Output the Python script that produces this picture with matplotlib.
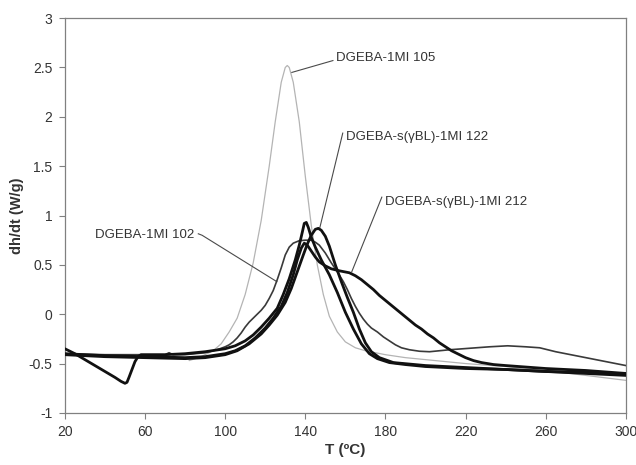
import matplotlib
matplotlib.use("Agg")
import matplotlib.pyplot as plt

plt.rcParams["font.family"] = ["Liberation Sans", "DejaVu Sans"]

TEXT = "#333333"
SPINE = "#808080"

# DSC heat-flow curves, dh/dt (W/g) vs temperature (ºC)
t_105 = [82, 88, 94, 98, 102, 106, 110, 114, 118, 122, 125, 128, 130, 131, 132,
         134, 137, 140, 143, 146, 149, 152, 156, 160, 165, 170, 180, 190, 200,
         220, 240, 260, 280, 300]
y_105 = [-0.47, -0.43, -0.37, -0.30, -0.18, -0.04, 0.20, 0.52, 0.95, 1.50, 1.95,
         2.35, 2.50, 2.52, 2.50, 2.35, 1.95, 1.40, 0.90, 0.50, 0.20, -0.02, -0.18,
         -0.28, -0.34, -0.37, -0.41, -0.44, -0.46, -0.50, -0.53, -0.57, -0.62, -0.67]

t_102 = [20, 40, 60, 70, 72, 74, 80, 90, 96, 100, 102, 104, 106, 108, 110, 112,
         114, 116, 118, 120, 122, 124, 126, 128, 130, 132, 134, 137, 140, 143, 145,
         147, 150, 153, 156, 159, 161, 163, 165, 167, 169, 171, 173, 176, 179, 182,
         185, 188, 192, 197, 202, 212, 222, 232, 241, 250, 257, 265, 275, 285, 300]
y_102 = [-0.40, -0.41, -0.41, -0.41, -0.39, -0.41, -0.41, -0.39, -0.36, -0.33,
         -0.31, -0.28, -0.24, -0.19, -0.13, -0.08, -0.04, 0.00, 0.04, 0.09, 0.16,
         0.24, 0.35, 0.47, 0.60, 0.68, 0.72, 0.745, 0.75, 0.75, 0.73, 0.70, 0.62,
         0.52, 0.43, 0.33, 0.25, 0.16, 0.08, 0.01, -0.05, -0.10, -0.14, -0.18,
         -0.23, -0.27, -0.31, -0.34, -0.36, -0.375, -0.38, -0.36, -0.345, -0.33,
         -0.32, -0.33, -0.34, -0.38, -0.42, -0.46, -0.52]

t_122 = [20, 40, 60, 80, 90, 100, 106, 112, 118, 122, 126, 130, 133, 136, 139,
         141, 143, 145, 146.5, 148, 150, 152, 155, 158, 161, 164, 167, 170, 173,
         177, 184, 200, 220, 240, 260, 280, 300]
y_122 = [-0.41, -0.43, -0.44, -0.45, -0.44, -0.41, -0.37, -0.30, -0.20, -0.11,
         -0.01, 0.12, 0.26, 0.43, 0.60, 0.71, 0.80, 0.86, 0.87, 0.85, 0.79, 0.69,
         0.50, 0.33, 0.17, 0.02, -0.15, -0.29, -0.38, -0.44, -0.49, -0.52, -0.54,
         -0.56, -0.58, -0.60, -0.62]

t_212 = [20, 40, 60, 80, 90, 100, 105, 110, 115, 120, 124, 128, 131, 134, 136,
         138, 139.5, 141, 143, 145, 147, 150, 153, 157, 162, 165, 168, 171, 174,
         177, 180, 183, 186, 189, 192, 195, 198, 201, 204, 207, 210, 213, 216,
         220, 224, 228, 234, 240, 260, 280, 300]
y_212 = [-0.40, -0.42, -0.43, -0.44, -0.43, -0.40, -0.37, -0.32, -0.24, -0.14,
         -0.04, 0.08, 0.22, 0.40, 0.55, 0.67, 0.72, 0.70, 0.64, 0.58, 0.53, 0.49,
         0.46, 0.44, 0.42, 0.39, 0.35, 0.30, 0.25, 0.19, 0.14, 0.09, 0.04, -0.01,
         -0.06, -0.11, -0.15, -0.20, -0.24, -0.29, -0.33, -0.37, -0.40, -0.44,
         -0.47, -0.49, -0.51, -0.52, -0.55, -0.57, -0.60]

t_b = [20, 25, 30, 35, 40, 45, 48, 50, 51, 52, 53.5, 55, 56.5, 58, 62, 70, 80,
       90, 100, 105, 110, 114, 118, 122, 126, 129, 132, 135, 137, 138.5, 139.5,
       140.5, 141.5, 143, 145, 148, 152, 156, 160, 164, 168, 172, 176, 182, 190,
       200, 220, 240, 260, 280, 300]
y_b = [-0.35, -0.40, -0.46, -0.52, -0.58, -0.64, -0.68, -0.70, -0.69, -0.64,
       -0.56, -0.48, -0.43, -0.41, -0.41, -0.41, -0.40, -0.38, -0.35, -0.32,
       -0.27, -0.21, -0.13, -0.04, 0.06, 0.20, 0.36, 0.55, 0.70, 0.83, 0.92, 0.93,
       0.88, 0.78, 0.68, 0.55, 0.40, 0.22, 0.02, -0.15, -0.30, -0.40, -0.45,
       -0.49, -0.51, -0.53, -0.55, -0.56, -0.58, -0.59, -0.61]

x_ticks = [20, 60, 100, 140, 180, 220, 260, 300]
y_ticks = [-1, -0.5, 0, 0.5, 1, 1.5, 2, 2.5, 3]
y_tick_labels = ["-1", "-0.5", "0", "0.5", "1", "1.5", "2", "2.5", "3"]

fig = plt.figure(figsize=(6.36, 4.65), dpi=100)
ax = fig.add_axes([0.102, 0.112, 0.882, 0.849])

line_kw = dict(solid_joinstyle="round", solid_capstyle="round")
ax.plot(t_105, y_105, color="#b4b4b4", lw=0.9, zorder=2, **line_kw)
ax.plot(t_102, y_102, color="#3a3a3a", lw=1.2, zorder=3, **line_kw)
ax.plot(t_122, y_122, color="#111111", lw=2.0, zorder=4, **line_kw)
ax.plot(t_212, y_212, color="#111111", lw=2.0, zorder=4, **line_kw)
ax.plot(t_b, y_b, color="#111111", lw=2.0, zorder=4, **line_kw)

# curve labels with leader lines
leader = dict(color="#4a4a4a", lw=0.8)
ax.plot([133.3, 153.8], [2.45, 2.57], **leader)
ax.text(155.3, 2.595, "DGEBA-1MI 105", ha="left", va="center",
        fontsize=9.5, color=TEXT)
ax.plot([147.3, 158.7], [0.88, 1.835], **leader)
ax.text(160.3, 1.80, "DGEBA-s(γBL)-1MI 122", ha="left", va="center",
        fontsize=9.5, color=TEXT)
ax.plot([163.2, 178.2], [0.43, 1.186], **leader)
ax.text(179.6, 1.14, "DGEBA-s(γBL)-1MI 212", ha="left", va="center",
        fontsize=9.5, color=TEXT)
ax.plot([86.6, 88.5, 125.8], [0.815, 0.80, 0.33], **leader)
ax.text(84.6, 0.80, "DGEBA-1MI 102", ha="right", va="center",
        fontsize=9.5, color=TEXT)

ax.set_xlim(20, 300)
ax.set_ylim(-1, 3)
ax.set_xticks(x_ticks)
ax.set_yticks(y_ticks)
ax.set_yticklabels(y_tick_labels)
ax.tick_params(direction="out", length=4, width=0.8, color=SPINE,
               labelsize=10, labelcolor=TEXT, pad=5)
for side in ["left", "bottom", "top", "right"]:
    ax.spines[side].set_color(SPINE)
    ax.spines[side].set_linewidth(0.9)

ax.set_xlabel("T (ºC)", fontsize=11, fontweight="bold", color=TEXT)
ax.set_ylabel("dh/dt (W/g)", fontsize=10.5, fontweight="bold", color=TEXT)
ax.xaxis.set_label_coords(0.5, -0.076)
ax.yaxis.set_label_coords(-0.072, 0.5)

fig.savefig("out.png", dpi=100, facecolor="white")
